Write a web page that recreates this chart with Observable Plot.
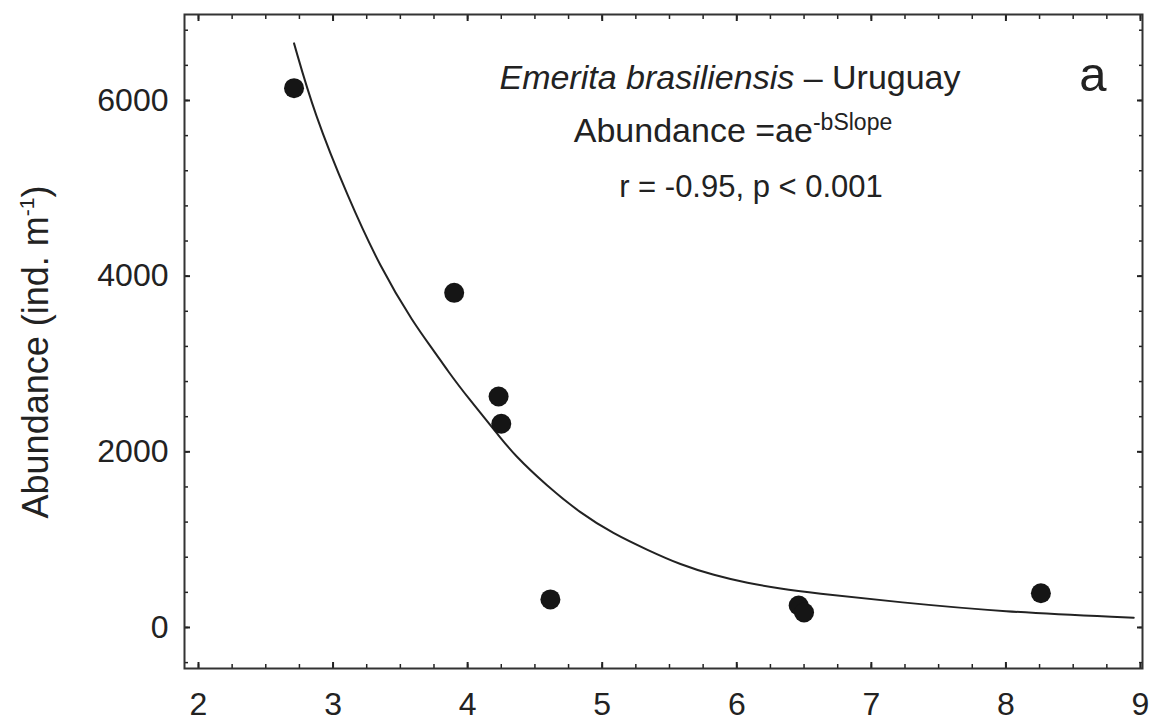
<!DOCTYPE html>
<html>
<head>
<meta charset="utf-8">
<script src="https://cdn.jsdelivr.net/npm/d3@7"></script>
<script src="https://cdn.jsdelivr.net/npm/@observablehq/plot@0.6"></script>
<style>
  html, body { margin: 0; padding: 0; background: #fff; }
  svg { display: block; }
</style>
</head>
<body>
<div id="chart"></div>
<script>
// Observed points (Slope vs Abundance)
const slope = [2.71, 3.90, 4.23, 4.25, 4.615, 6.46, 6.50, 8.26];
const abundance = [6140, 3810, 2630, 2320, 320, 250, 170, 390];

// Fitted curve
const fitSlope = [2.71, 2.86, 3.11, 3.35, 3.60, 3.75, 3.85, 4.00, 4.24, 4.34, 4.59, 4.84, 5.08, 5.34, 5.58, 5.83, 6.08, 6.33, 6.55, 7.22, 7.96, 8.95];
const fitAbundance = [6650, 5850, 4900, 4100, 3460, 3150, 2925, 2620, 2170, 1975, 1610, 1300, 1070, 880, 715, 595, 505, 440, 395, 285, 180, 110];

// Axis ticks
const xTicks = [2, 3, 4, 5, 6, 7, 8, 9];
const yTicks = [0, 2000, 4000, 6000];
const xMinorTicks = d3.range(2, 9.001, 0.25);
const yMinorTicks = d3.range(-400, 6801, 400);

const points = slope.map((s, i) => ({slope: s, abundance: abundance[i]}));
const fit = fitSlope.map((s, i) => ({slope: s, abundance: fitAbundance[i]}));

const ink = "#222";
const font = "'Liberation Sans', Arial, Helvetica, sans-serif";

const plot = Plot.plot({
  width: 1154,
  height: 720,
  marginLeft: 184,
  marginRight: 12,
  marginTop: 14,
  marginBottom: 52,
  style: {fontFamily: font, color: ink, background: "#fff", overflow: "visible"},
  x: {domain: [1.896, 9.015]},
  y: {domain: [-467, 6979]},
  marks: [
    Plot.line(fit, {x: "slope", y: "abundance", curve: "basis", stroke: ink, strokeWidth: 2}),
    Plot.dot(points, {x: "slope", y: "abundance", r: 10, fill: "#151515", stroke: "none"}),
    // minor ticks (inward)
    Plot.axisX(xMinorTicks, {anchor: "bottom", tickSize: -4, text: null, label: null, stroke: ink, strokeWidth: 1.5}),
    Plot.axisX(xMinorTicks, {anchor: "top", tickSize: -4, text: null, label: null, stroke: ink, strokeWidth: 1.5}),
    Plot.axisY(yMinorTicks, {anchor: "left", tickSize: -4, text: null, label: null, stroke: ink, strokeWidth: 1.5}),
    Plot.axisY(yMinorTicks, {anchor: "right", tickSize: -4, text: null, label: null, stroke: ink, strokeWidth: 1.5}),
    // major ticks (inward)
    Plot.axisX(xTicks, {anchor: "bottom", tickSize: -6, text: null, label: null, stroke: ink, strokeWidth: 2}),
    Plot.axisX(xTicks, {anchor: "top", tickSize: -6, text: null, label: null, stroke: ink, strokeWidth: 2}),
    Plot.axisY(yTicks, {anchor: "left", tickSize: -6, text: null, label: null, stroke: ink, strokeWidth: 2}),
    Plot.axisY(yTicks, {anchor: "right", tickSize: -6, text: null, label: null, stroke: ink, strokeWidth: 2}),
    // tick labels
    Plot.axisX(xTicks, {anchor: "bottom", tickSize: 0, tickPadding: 24, label: null, fontSize: 32, fill: ink, tickFormat: d => String(d)}),
    Plot.axisY(yTicks, {anchor: "left", tickSize: 0, tickPadding: 16, label: null, fontSize: 32, fill: ink, tickFormat: d => String(d)}),
    Plot.frame({stroke: "#333", strokeWidth: 2})
  ]
});

document.getElementById("chart").appendChild(plot);

const svg = d3.select(plot);

// Y axis label with superscript
const yl = svg.append("text")
  .attr("transform", "translate(48,352) rotate(-90)")
  .attr("text-anchor", "middle")
  .attr("font-family", font)
  .attr("font-size", 36)
  .attr("fill", ink);
yl.append("tspan").text("Abundance (ind. m");
yl.append("tspan").attr("font-size", 21).attr("dy", -14).text("-1");
yl.append("tspan").attr("dy", 14).text(")");

// Annotation block
const t1 = svg.append("text")
  .attr("x", 730).attr("y", 89)
  .attr("text-anchor", "middle")
  .attr("font-family", font).attr("font-size", 34).attr("fill", ink);
t1.append("tspan").attr("font-style", "italic").text("Emerita brasiliensis");
t1.append("tspan").text(" \u2013 Uruguay");

const t2 = svg.append("text")
  .attr("x", 733).attr("y", 142)
  .attr("text-anchor", "middle")
  .attr("font-family", font).attr("font-size", 34).attr("fill", ink);
t2.append("tspan").text("Abundance =ae");
t2.append("tspan").attr("font-size", 23).attr("dy", -12).text("-bSlope");

svg.append("text")
  .attr("x", 751).attr("y", 197)
  .attr("text-anchor", "middle")
  .attr("font-family", font).attr("font-size", 31).attr("fill", ink)
  .text("r = -0.95, p < 0.001");

svg.append("text")
  .attr("x", 1093).attr("y", 91)
  .attr("text-anchor", "middle")
  .attr("font-family", font).attr("font-size", 49).attr("fill", ink)
  .text("a");
</script>
</body>
</html>
